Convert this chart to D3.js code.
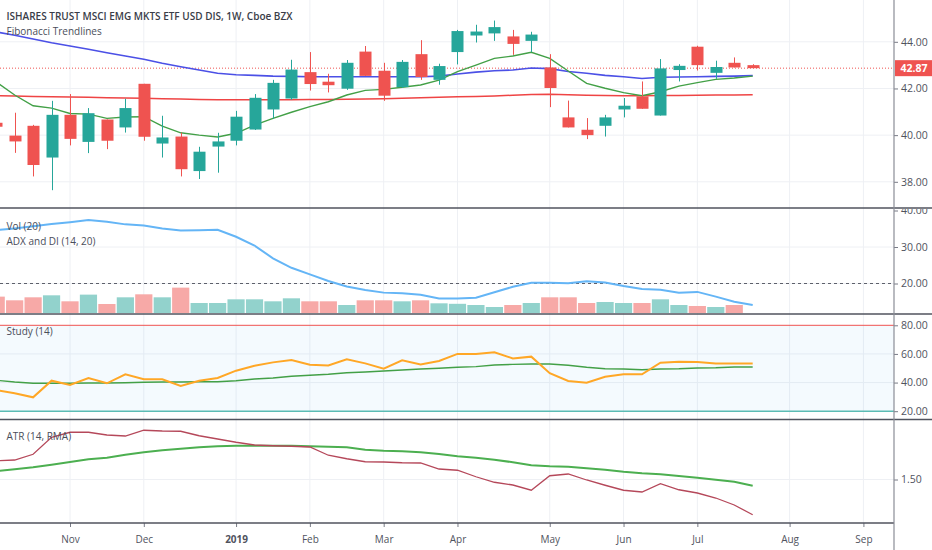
<!DOCTYPE html>
<html><head><meta charset="utf-8">
<script src="https://cdn.jsdelivr.net/npm/d3@7"></script>
<style>
body{margin:0;background:#fff;}
svg{display:block;font-family:"Open Sans","Noto Sans",sans-serif;}
</style>
</head><body>
<svg id="c" width="932" height="550"></svg>
<script>
// ---------------- DATA ----------------
const weeks = ["2018-10-08","2018-10-15","2018-10-22","2018-10-29","2018-11-05","2018-11-12","2018-11-19","2018-11-26",
"2018-12-03","2018-12-10","2018-12-17","2018-12-24","2018-12-31","2019-01-07","2019-01-14","2019-01-21","2019-01-28",
"2019-02-04","2019-02-11","2019-02-18","2019-02-25","2019-03-04","2019-03-11","2019-03-18","2019-03-25","2019-04-01",
"2019-04-08","2019-04-15","2019-04-22","2019-04-29","2019-05-06","2019-05-13","2019-05-20","2019-05-27","2019-06-03",
"2019-06-10","2019-06-17","2019-06-24","2019-07-01","2019-07-08","2019-07-15","2019-07-22"];

const open  = [40.53,39.98,40.40,39.04,40.87,39.71,40.67,40.33,42.20,39.64,39.94,38.46,39.51,39.76,40.24,41.10,41.57,42.70,42.29,41.99,43.58,42.76,42.06,43.47,42.37,43.56,44.27,44.36,44.23,44.04,42.90,40.76,40.23,40.40,41.10,41.66,40.84,42.79,43.79,42.67,43.10,43.00];
const high  = [40.70,40.96,40.44,41.47,41.76,41.16,40.67,41.56,42.20,40.83,40.11,39.50,40.10,41.04,41.76,42.37,43.23,43.56,42.63,43.22,43.82,43.10,43.22,44.07,43.06,44.51,44.73,44.91,44.51,44.43,43.47,41.48,40.73,40.87,41.59,42.30,43.26,43.04,43.83,43.19,43.33,43.04];
const low   = [40.20,39.24,38.23,37.64,39.56,39.23,39.40,40.11,39.76,39.04,38.23,38.12,38.39,39.56,40.22,40.71,41.51,41.91,41.83,41.94,42.54,41.47,42.02,42.37,42.16,43.03,43.97,44.04,43.44,43.56,41.20,40.33,39.83,39.94,40.76,41.13,40.84,42.30,42.77,42.41,42.90,42.87];
const close = [40.36,39.73,38.72,40.87,39.84,40.94,39.76,41.16,39.93,39.90,38.54,39.29,39.73,40.79,41.60,42.24,42.81,42.19,42.14,43.10,42.54,41.69,43.14,42.49,42.96,44.46,44.44,44.63,43.91,44.31,42.02,40.33,40.00,40.76,41.26,41.13,42.86,42.97,43.00,42.92,42.90,42.87];

const maShort = [42.28,41.72,41.26,41.16,40.93,40.90,40.72,40.78,40.79,40.39,40.10,40.00,39.92,40.08,40.43,40.72,40.98,41.22,41.43,41.72,41.92,41.96,42.05,42.15,42.36,42.72,43.00,43.29,43.39,43.55,43.29,42.75,42.22,42.01,41.82,41.69,41.86,42.10,42.25,42.39,42.45,42.53];
const maMid   = [44.42,44.28,44.12,43.96,43.82,43.68,43.53,43.39,43.25,43.08,42.93,42.79,42.65,42.59,42.56,42.53,42.52,42.50,42.50,42.50,42.50,42.50,42.50,42.50,42.53,42.62,42.70,42.76,42.79,42.88,42.85,42.73,42.65,42.56,42.50,42.43,42.48,42.49,42.50,42.52,42.53,42.55];
const maLong  = [41.69,41.68,41.66,41.65,41.63,41.62,41.60,41.59,41.58,41.56,41.55,41.53,41.52,41.52,41.52,41.52,41.52,41.53,41.53,41.54,41.55,41.56,41.58,41.60,41.62,41.65,41.66,41.68,41.71,41.74,41.75,41.73,41.71,41.70,41.69,41.69,41.70,41.70,41.71,41.72,41.72,41.73];

const volume = [262,203,251,283,187,294,144,251,299,251,406,160,160,219,219,187,235,187,187,128,203,203,187,203,155,147,128,96,128,160,251,251,160,176,160,160,219,128,112,96,128,null];
const adx = [34.6,35.1,35.7,36.3,36.8,37.4,36.9,36.2,35.9,35.1,34.5,34.6,34.7,32.8,30.4,26.9,24.3,22.5,20.7,19.2,18.2,17.5,17.3,16.9,15.9,15.9,16.1,17.6,19.1,20.2,20.2,20.1,20.6,20.3,19.3,18.5,18.3,17.5,17.7,16.4,15.0,14.1];

const studyK = [34.8,32.5,29.7,41.3,38.3,43.2,39.5,45.8,42.3,42.3,37.6,41.3,43.2,48.3,51.8,54.1,55.8,52.5,52.0,56.2,53.4,49.7,55.5,52.7,55.1,60.0,60.0,61.1,56.9,58.1,46.5,41.1,39.9,44.1,45.8,45.8,53.9,54.6,54.4,53.4,53.4,53.4];
const studyD = [41.6,40.4,39.5,39.5,39.5,39.7,39.7,39.9,40.2,40.4,40.4,40.6,40.6,41.3,42.5,43.2,44.4,45.1,45.8,46.9,47.4,48.1,48.8,49.5,50.0,50.7,51.1,52.3,52.7,53.0,53.0,52.1,50.7,49.7,49.5,49.0,49.5,49.7,50.2,50.4,50.9,50.9];

const atr  = [1.575,1.578,1.601,1.669,1.689,1.689,1.678,1.674,1.697,1.694,1.693,1.675,1.662,1.649,1.638,1.635,1.633,1.630,1.597,1.583,1.571,1.570,1.567,1.566,1.542,1.537,1.511,1.489,1.478,1.457,1.515,1.522,1.498,1.477,1.457,1.450,1.483,1.459,1.446,1.426,1.398,1.359];
const atrMA = [1.534,1.541,1.549,1.559,1.570,1.581,1.587,1.599,1.609,1.617,1.623,1.629,1.633,1.635,1.635,1.635,1.635,1.633,1.631,1.629,1.619,1.615,1.613,1.609,1.602,1.593,1.587,1.579,1.569,1.557,1.553,1.551,1.545,1.539,1.531,1.525,1.521,1.514,1.507,1.499,1.491,1.475];

const monthTicks  = ["2018-11-05","2018-12-03","2019-01-07","2019-02-04","2019-03-04","2019-04-01","2019-05-06","2019-06-03","2019-07-01","2019-08-05","2019-09-02"];
const monthLabels = ["Nov","Dec","2019","Feb","Mar","Apr","May","Jun","Jul","Aug","Sep"];
const priceTicks = [38,40,42,44];
const adxTicks = [20,30,40];
const studyTicks = [20,40,60,80];
const atrTicks = [1.5];
const adxLevel = 20, studyUpper = 80, studyLower = 20;
const lastPrice = 42.87;

const title = "ISHARES TRUST MSCI EMG MKTS ETF USD DIS, 1W, Cboe BZX";
const legends = {main:["Fibonacci Trendlines"], adx:["Vol (20)","ADX and DI (14, 20)"], study:["Study (14)"], atr:["ATR (14, RMA)"]};

// ---------------- LAYOUT ----------------
const W = 932, H = 550, R = 894;
const P = {main:[0,208], adx:[208,314], study:[314,419.5], atr:[419.5,523]};
const UP = "#26a69a", DN = "#ef5350";
const GRID = "#eef0f4", TXT = "#50535e";

const parse = d3.utcParse("%Y-%m-%d");
const dates = weeks.map(parse);
const rows = dates.map((d,i)=>({d, o:open[i], h:high[i], l:low[i], c:close[i], v:volume[i]}));

const x = d3.scaleUtc().domain([dates[0], dates[dates.length-1]]).range([-3.8, 752.7]);
const yMain = d3.scaleLinear().domain([38,44]).range([181.8,41.8]);
const yAdx = d3.scaleLinear().domain([10,40]).range([320,210.5]);
const yVol = d3.scaleLinear().domain([0,800]).range([313,263]);
const yStudy = d3.scaleLinear().domain([20,80]).range([411.2,325.3]);
const yAtr = d3.scaleLinear().domain([1.3,1.75]).range([529.5,417]);

const svg = d3.select("#c");
svg.append("rect").attr("width",W).attr("height",H).attr("fill","#fff");
const defs = svg.append("defs");
Object.entries(P).forEach(([k,[a,b]])=>{
  defs.append("clipPath").attr("id","cp-"+k).append("rect").attr("x",0).attr("y",a).attr("width",R).attr("height",b-a);
  defs.append("clipPath").attr("id","ca-"+k).append("rect").attr("x",R).attr("y",a+1).attr("width",W-R).attr("height",b-a-1);
});

// grids
const grid = svg.append("g");
const mt = monthTicks.map(parse);
grid.selectAll("line.v").data(mt).join("line")
  .attr("x1",d=>x(d)).attr("x2",d=>x(d)).attr("y1",0).attr("y2",P.atr[1]).attr("stroke",GRID).attr("stroke-width",1);
function hgrid(ticks, y){
  grid.selectAll(null).data(ticks).join("line").attr("x1",0).attr("x2",R)
    .attr("y1",d=>y(d)).attr("y2",d=>y(d)).attr("stroke",GRID).attr("stroke-width",1);
}
hgrid(priceTicks,yMain); hgrid(adxTicks.filter(t=>t<40),yAdx); hgrid([40,60],yStudy); hgrid(atrTicks,yAtr);

// ---------------- MAIN PANE ----------------
const gMain = svg.append("g").attr("clip-path","url(#cp-main)");
const line = (y, arr)=> d3.line().x((d,i)=>x(dates[i])).y(d=>y(d))(arr);
gMain.append("line").attr("x1",0).attr("x2",R).attr("y1",yMain(lastPrice)).attr("y2",yMain(lastPrice))
  .attr("stroke",DN).attr("stroke-width",1).attr("stroke-dasharray","1,2");
gMain.append("path").attr("d",line(yMain,maLong)).attr("fill","none").attr("stroke","#ef4444").attr("stroke-width",1.5);
gMain.append("path").attr("d",line(yMain,maMid)).attr("fill","none").attr("stroke","#4b50e6").attr("stroke-width",1.6);
gMain.append("path").attr("d",line(yMain,maShort)).attr("fill","none").attr("stroke","#43a047").attr("stroke-width",1.4);
const cg = gMain.selectAll("g.c").data(rows).join("g");
cg.append("line").attr("x1",d=>Math.round(x(d.d))+0.5).attr("x2",d=>Math.round(x(d.d))+0.5)
  .attr("y1",d=>yMain(d.h)).attr("y2",d=>yMain(d.l)).attr("stroke",d=>d.c>=d.o?UP:DN).attr("stroke-width",1);
cg.append("rect").attr("x",d=>Math.round(x(d.d))-5.5).attr("width",12)
  .attr("y",d=>yMain(Math.max(d.o,d.c))).attr("height",d=>Math.max(1,Math.abs(yMain(d.o)-yMain(d.c))))
  .attr("fill",d=>d.c>=d.o?UP:DN);

// ---------------- ADX / VOL PANE ----------------
const gAdx = svg.append("g").attr("clip-path","url(#cp-adx)");
gAdx.selectAll("rect").data(rows.filter(r=>r.v!=null)).join("rect")
  .attr("x",d=>x(d.d)-8.6).attr("width",17.2).attr("y",d=>yVol(d.v)).attr("height",d=>yVol(0)-yVol(d.v))
  .attr("fill",d=>d.c>=d.o?"#92d2cc":"#f7a9a7");
gAdx.append("line").attr("x1",0).attr("x2",R).attr("y1",yAdx(adxLevel)).attr("y2",yAdx(adxLevel))
  .attr("stroke","#5d606b").attr("stroke-width",1.2).attr("stroke-dasharray","3,3");
gAdx.append("path").attr("d",line(yAdx,adx)).attr("fill","none").attr("stroke","#64b5f6").attr("stroke-width",2);

// ---------------- STUDY PANE ----------------
const gSt = svg.append("g").attr("clip-path","url(#cp-study)");
gSt.append("rect").attr("x",0).attr("width",R).attr("y",yStudy(studyUpper)).attr("height",yStudy(studyLower)-yStudy(studyUpper))
  .attr("fill","rgba(33,150,243,0.05)");
gSt.append("line").attr("x1",0).attr("x2",R).attr("y1",yStudy(studyUpper)).attr("y2",yStudy(studyUpper)).attr("stroke","#ef5350").attr("stroke-width",1);
gSt.append("line").attr("x1",0).attr("x2",R).attr("y1",yStudy(studyLower)).attr("y2",yStudy(studyLower)).attr("stroke","#5cbcb4").attr("stroke-width",1.5);
gSt.append("path").attr("d",line(yStudy,studyD)).attr("fill","none").attr("stroke","#43a047").attr("stroke-width",1.4);
gSt.append("path").attr("d",line(yStudy,studyK)).attr("fill","none").attr("stroke","#ffa726").attr("stroke-width",2);

// ---------------- ATR PANE ----------------
const gAtr = svg.append("g").attr("clip-path","url(#cp-atr)");
gAtr.append("path").attr("d",line(yAtr,atrMA)).attr("fill","none").attr("stroke","#4caf50").attr("stroke-width",2);
gAtr.append("path").attr("d",line(yAtr,atr)).attr("fill","none").attr("stroke","#b5485a").attr("stroke-width",1.3);

// ---------------- AXES ----------------
const f2 = d3.format(".2f");
function rightAxis(y, ticks, key){
  const g = svg.append("g").attr("clip-path","url(#ca-"+key+")").append("g").attr("transform",`translate(${R},0)`)
    .call(d3.axisRight(y).tickValues(ticks).tickFormat(f2).tickSize(4).tickPadding(3));
  g.select(".domain").remove();
  g.selectAll(".tick line").attr("stroke","#787b86");
  g.selectAll(".tick text").attr("fill",TXT).attr("font-size","10.5px").attr("font-family","'Open Sans',sans-serif");
}
rightAxis(yMain, priceTicks, "main");
rightAxis(yAdx, adxTicks, "adx");
rightAxis(yStudy, studyTicks, "study");
rightAxis(yAtr, atrTicks, "atr");

const gx = svg.append("g").attr("transform",`translate(0,${P.atr[1]})`)
  .call(d3.axisBottom(x).tickValues(mt).tickFormat((d,i)=>monthLabels[i]).tickSize(4).tickPadding(9));
gx.select(".domain").remove();
gx.selectAll(".tick line").attr("stroke","#787b86");
gx.selectAll(".tick text").attr("fill",TXT).attr("font-size","10px").attr("font-family","'Open Sans',sans-serif")
  .attr("font-weight",(d,i)=>monthLabels[i]==="2019"?"bold":"normal");

// separators & axis line
const sep = svg.append("g");
[[P.main[1],W],[P.adx[1],W],[P.study[1],W],[P.atr[1],R]].forEach(([y,x2])=>{
  sep.append("line").attr("x1",0).attr("x2",x2).attr("y1",y).attr("y2",y).attr("stroke","#50535e").attr("stroke-width",1.5);
});
sep.append("line").attr("x1",R).attr("x2",R).attr("y1",0).attr("y2",H).attr("stroke","#8a8d96").attr("stroke-width",1.2);

// last price label
const yl = yMain(lastPrice);
svg.append("rect").attr("x",R+1).attr("y",yl-8).attr("width",W-R-1).attr("height",16).attr("fill",DN);
svg.append("text").attr("x",R+6.5).attr("y",yl+4).attr("fill","#fff").attr("font-size","10.5px").attr("font-weight","bold")
  .text(f2(lastPrice));

// ---------------- LEGENDS ----------------
const lg = svg.append("g").attr("fill","#4a4e5a");
lg.append("text").attr("x",6.5).attr("y",20).attr("font-size","10px").attr("font-weight","600").attr("fill","#3a3d48").text(title);
lg.append("text").attr("x",6.5).attr("y",34.7).attr("font-size","10px").text(legends.main[0]);
lg.append("text").attr("x",6.5).attr("y",229.5).attr("font-size","10px").text(legends.adx[0]);
lg.append("text").attr("x",6.5).attr("y",245).attr("font-size","10px").text(legends.adx[1]);
lg.append("text").attr("x",6.5).attr("y",334.5).attr("font-size","10px").text(legends.study[0]);
lg.append("text").attr("x",6.5).attr("y",440).attr("font-size","10px").text(legends.atr[0]);
</script>
</body></html>
